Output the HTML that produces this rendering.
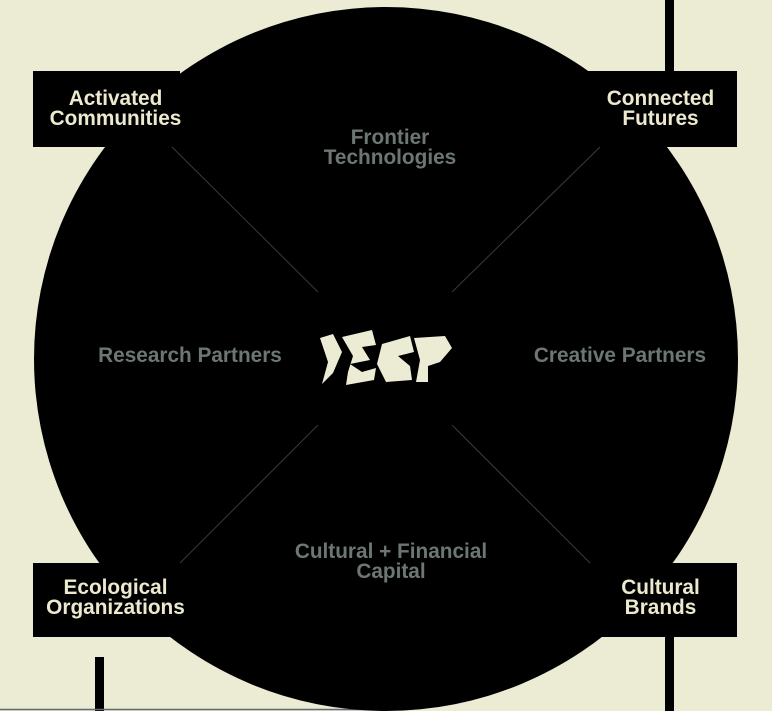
<!DOCTYPE html>
<html><head><style>
html,body{margin:0;padding:0;}
body{width:772px;height:711px;background:#ecebd4;position:relative;overflow:hidden;font-family:"Liberation Sans",Arial,sans-serif;}
.t{position:absolute;font-weight:bold;font-size:21px;line-height:20px;text-align:center;white-space:nowrap;transform:scaleX(0.99);}
.c{color:#ede9cf;}
.g{color:#6c7775;}
</style></head><body>
<svg width="772" height="711" style="position:absolute;left:0;top:0">
<rect x="665" y="0" width="9" height="80" fill="#000"/>
<rect x="665" y="630" width="9" height="81" fill="#000"/>
<rect x="95" y="657" width="9" height="54" fill="#000"/>
<line x1="0" y1="709.5" x2="380" y2="709.5" stroke="#5d6a72" stroke-width="1.5"/>
<circle cx="386" cy="359" r="352" fill="#000"/>
<rect x="33" y="71" width="147" height="76" fill="#000"/>
<rect x="588" y="71" width="149" height="76" fill="#000"/>
<rect x="33" y="563" width="147" height="74" fill="#000"/>
<rect x="588" y="563" width="149" height="74" fill="#000"/>
<g stroke="#3a3a3a" stroke-width="1">
<line x1="172" y1="147" x2="318" y2="292"/>
<line x1="600" y1="147" x2="452" y2="292"/>
<line x1="318" y1="425" x2="180" y2="563"/>
<line x1="452" y1="425" x2="590" y2="563"/>
</g>
<g fill="#ecebd4">
<polygon points="320,338 333,334 342,352 333,373 322,384 328,362"/>
<polygon points="342,337 372,330 376,345 362,347 370,360 350,364 362,372 376,368 374,380 346,385 348,372 353,356"/>
<polygon points="382,344 410,336 414,352 398,356 410,366 412,380 386,382 377,364"/>
<polygon points="414,338 445,336 452,348 440,362 428,366 428,382 416,382 420,360"/>
</g>
</svg>
<div class="t c" style="left:32px;width:167px;top:89px">Activated<br>Communities</div>
<div class="t c" style="left:578px;width:165px;top:89px">Connected<br>Futures</div>
<div class="t c" style="left:23px;width:185px;top:578px">Ecological<br>Organizations</div>
<div class="t c" style="left:578px;width:165px;top:578px">Cultural<br>Brands</div>
<div class="t g" style="left:280px;width:220px;top:128px">Frontier<br>Technologies</div>
<div class="t g" style="left:50px;width:280px;top:346px">Research Partners</div>
<div class="t g" style="left:480px;width:280px;top:346px">Creative Partners</div>
<div class="t g" style="left:250px;width:282px;top:542px">Cultural + Financial<br>Capital</div>
</body></html>
